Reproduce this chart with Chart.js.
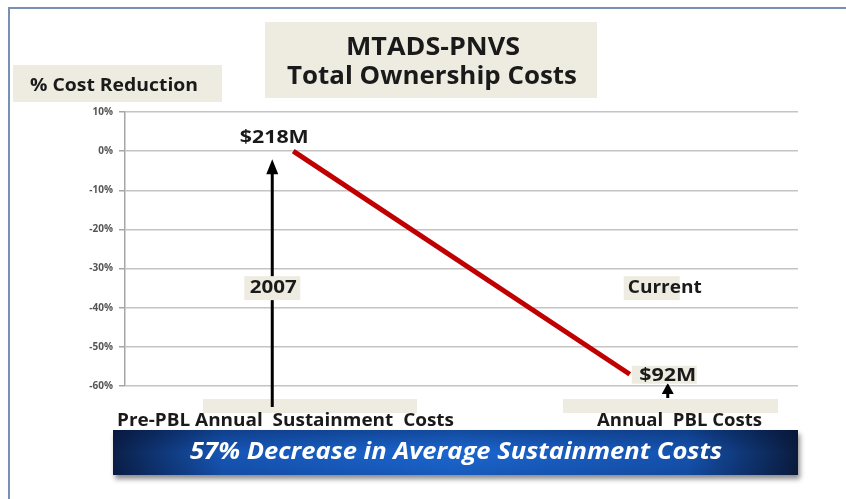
<!DOCTYPE html>
<html>
<head>
<meta charset="utf-8">
<script src="https://cdn.jsdelivr.net/npm/chart.js@4.4.0/dist/chart.umd.min.js"></script>
<style>
  html, body { margin: 0; padding: 0; background: #fff; }
  #wrap { position: relative; width: 846px; height: 499px; }
</style>
</head>
<body>
<div id="wrap"><canvas id="chart" width="846" height="499"></canvas></div>
<script>
// data
const categories = ['Pre-PBL Annual  Sustainment  Costs', 'Annual  PBL Costs'];
const reduction = [0, -57];
const costLabels = ['$218M', '$92M'];
const periodLabels = ['2007', 'Current'];
const yTicks = [10, 0, -10, -20, -30, -40, -50, -60];
const titleLines = ['MTADS-PNVS', 'Total Ownership Costs'];
const axisTitle = '% Cost Reduction';
const bannerText = '57% Decrease in Average Sustainment Costs';

const FONT = '"Open Sans", "DejaVu Sans", sans-serif';
const BEIGE = '#eeece1';

// text squeezed to a given width (the original uses a narrow font)
function fitText(ctx, text, cx, cy, width, size, opts) {
  opts = opts || {};
  ctx.save();
  ctx.font = (opts.italic ? 'italic ' : '') + 'bold ' + size + 'px ' + FONT;
  const w = ctx.measureText(text).width;
  ctx.translate(cx, cy);
  ctx.scale(width / w, 1);
  ctx.textAlign = 'center';
  ctx.textBaseline = 'middle';
  ctx.fillStyle = opts.color || '#1a1a1a';
  ctx.fillText(text, 0, 0);
  ctx.restore();
}

function box(ctx, x, y, w, h) {
  ctx.fillStyle = BEIGE;
  ctx.fillRect(x, y, w, h);
}

function arrowUp(ctx, x, yBottom, yTop, lw, headW, headL) {
  ctx.save();
  ctx.strokeStyle = '#000';
  ctx.fillStyle = '#000';
  ctx.lineWidth = lw;
  ctx.beginPath();
  ctx.moveTo(x, yBottom);
  ctx.lineTo(x, yTop + headL - 1);
  ctx.stroke();
  ctx.beginPath();
  ctx.moveTo(x, yTop);
  ctx.lineTo(x - headW / 2, yTop + headL);
  ctx.lineTo(x + headW / 2, yTop + headL);
  ctx.closePath();
  ctx.fill();
  ctx.restore();
}

const decorations = {
  id: 'decorations',
  beforeDraw(chart) {
    const ctx = chart.ctx;
    ctx.save();
    ctx.fillStyle = '#fff';
    ctx.fillRect(0, 0, chart.width, chart.height);
    // slide frame
    ctx.strokeStyle = '#7890b4';
    ctx.lineWidth = 2;
    ctx.beginPath();
    ctx.moveTo(9, chart.height);
    ctx.lineTo(9, 8);
    ctx.lineTo(chart.width, 8);
    ctx.stroke();
    // title boxes
    box(ctx, 265, 22, 332, 76);
    fitText(ctx, titleLines[0], 433, 48, 174, 25);
    fitText(ctx, titleLines[1], 432, 77, 290, 25);
    box(ctx, 13, 65, 209, 37);
    fitText(ctx, axisTitle, 114, 86, 168, 18);
    ctx.restore();
  },
  afterDraw(chart) {
    const ctx = chart.ctx;
    const y = chart.scales.y;
    const area = chart.chartArea;
    const pts = chart.getDatasetMeta(0).data;
    const p0 = pts[0], p1 = pts[1];
    const yYear = y.getPixelForValue(-35);
    const arrowX = p0.x - 21;
    ctx.save();

    // beige bars under the category labels
    box(ctx, 203, area.bottom + 13, 214, 14);
    box(ctx, 563, area.bottom + 13, 215, 14);

    // arrows
    arrowUp(ctx, arrowX, area.bottom + 21, p0.y + 8, 3, 12, 15);
    arrowUp(ctx, p1.x + 38, area.bottom + 12, area.bottom - 3, 3, 12, 11);

    // value and period labels
    fitText(ctx, costLabels[0], p0.x - 19, p0.y - 13, 69, 18);
    box(ctx, arrowX - 28, yYear - 12, 56, 24);
    fitText(ctx, periodLabels[0], arrowX + 1, yYear, 47, 18);
    box(ctx, p1.x - 6, yYear - 12, 56, 24);
    fitText(ctx, periodLabels[1], p1.x + 35, yYear, 74, 18);
    box(ctx, p1.x + 2, p1.y - 8.5, 65, 18);
    fitText(ctx, costLabels[1], p1.x + 38, p1.y + 1.5, 57, 18);

    // category labels
    fitText(ctx, categories[0], 285.5, area.bottom + 35, 337, 18);
    fitText(ctx, categories[1], 679.5, area.bottom + 35, 165, 18);

    // banner
    const bx = 113, by = area.bottom + 44, bw = 685, bh = 45;
    const g = ctx.createLinearGradient(bx, 0, bx + bw, 0);
    g.addColorStop(0, '#0a1f48');
    g.addColorStop(0.16, '#1656b6');
    g.addColorStop(0.5, '#1b66d0');
    g.addColorStop(0.84, '#1553b0');
    g.addColorStop(1, '#0a1c3e');
    ctx.save();
    ctx.shadowColor = 'rgba(0,0,0,0.45)';
    ctx.shadowOffsetY = 4;
    ctx.shadowOffsetX = 2;
    ctx.shadowBlur = 5;
    ctx.fillStyle = g;
    ctx.fillRect(bx, by, bw, bh);
    ctx.restore();
    const gv = ctx.createLinearGradient(0, by, 0, by + bh);
    gv.addColorStop(0, 'rgba(0,10,40,0.3)');
    gv.addColorStop(0.5, 'rgba(0,10,40,0)');
    gv.addColorStop(1, 'rgba(0,10,40,0.12)');
    ctx.fillStyle = gv;
    ctx.fillRect(bx, by, bw, bh);
    fitText(ctx, bannerText, 456, by + 22, 532, 23, { italic: true, color: '#fff' });

    ctx.restore();
  }
};

new Chart(document.getElementById('chart'), {
  type: 'line',
  data: {
    labels: categories,
    datasets: [{
      data: reduction,
      borderColor: '#c00000',
      borderWidth: 5,
      borderCapStyle: 'butt',
      pointRadius: 0,
      tension: 0,
      fill: false
    }]
  },
  options: {
    responsive: false,
    animation: false,
    layout: { padding: { left: 0, right: 48, top: 112, bottom: 113 } },
    plugins: {
      legend: { display: false },
      tooltip: { enabled: false }
    },
    scales: {
      x: {
        type: 'category',
        offset: true,
        display: false
      },
      y: {
        min: -60,
        max: 10,
        afterFit(scale) { scale.width = 125; },
        afterBuildTicks(scale) { scale.ticks = yTicks.map(v => ({ value: v })); },
        grid: {
          color: '#c4c4c4',
          lineWidth: 1.5,
          tickLength: 6,
          tickColor: '#a6a6a6'
        },
        border: { color: '#a6a6a6', width: 1.5 },
        ticks: {
          padding: 6,
          color: '#555',
          font: { family: FONT, size: 10, weight: 'bold' },
          callback: v => v + '%'
        }
      }
    }
  },
  plugins: [decorations]
});
</script>
</body>
</html>
